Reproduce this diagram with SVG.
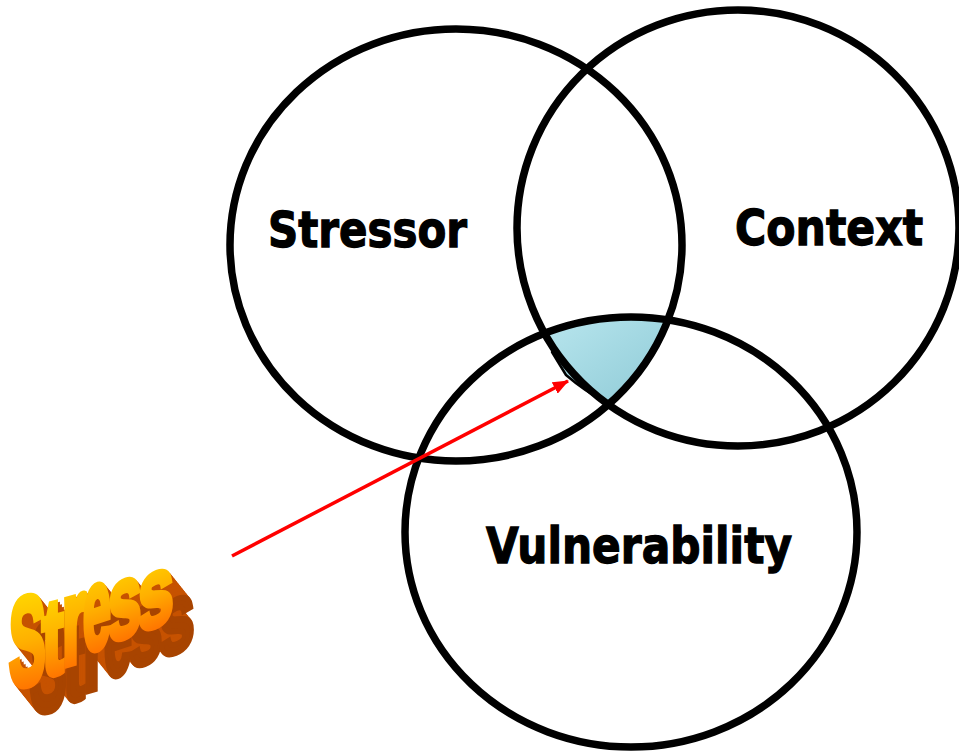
<svg xmlns="http://www.w3.org/2000/svg" xmlns:xlink="http://www.w3.org/1999/xlink" width="959" height="752" viewBox="0 0 959 752">
<style>
.ring{fill:none;stroke:#000;stroke-width:7.5}
.lbl{font-family:"DejaVu Sans","Verdana",sans-serif;font-weight:bold;font-size:50px;fill:#000;stroke:#000;stroke-width:1.3}
.wa{font-family:"Liberation Sans","Arial",sans-serif;font-weight:bold;font-size:100px}
</style>
<defs>
<linearGradient id="water" x1="0" y1="0" x2="1" y2="1">
<stop offset="0" stop-color="#b9e6ee"/>
<stop offset="0.5" stop-color="#a3d8e2"/>
<stop offset="1" stop-color="#8fcad6"/>
</linearGradient>
<linearGradient id="face" x1="0" y1="0" x2="0" y2="1">
<stop offset="0" stop-color="#ffe600"/>
<stop offset="0.5" stop-color="#ffb000"/>
<stop offset="1" stop-color="#ff5a00"/>
</linearGradient>
<marker id="ah" markerWidth="16" markerHeight="13" refX="15" refY="6.5" orient="auto" markerUnits="userSpaceOnUse" viewBox="0 0 16 13">
<path d="M0,0 L16,6.5 L0,13 z" fill="#ff0000"/>
</marker>
<g id="word">
<text class="wa" transform="translate(9,688) skewY(-12) scale(0.55,1.25)">S</text>
<text class="wa" transform="translate(42,677) skewY(-14) scale(0.65,1.08)">t</text>
<text class="wa" transform="translate(62,666) skewY(-16) scale(0.62,1.22)">r</text>
<text class="wa" transform="translate(83,653) skewY(-18) scale(0.5,1.17)">e</text>
<text class="wa" transform="translate(108,643) skewY(-20) scale(0.6,1.04)">s</text>
<text class="wa" transform="translate(138,633) skewY(-22) scale(0.64,0.98)">s</text>
</g>
<g id="ext">
<use xlink:href="#word" x="2" y="2.5"/>
<use xlink:href="#word" x="4" y="5"/>
<use xlink:href="#word" x="6" y="7.5"/>
<use xlink:href="#word" x="8" y="10"/>
<use xlink:href="#word" x="10" y="12.5"/>
<use xlink:href="#word" x="12" y="15"/>
<use xlink:href="#word" x="14" y="17.5"/>
<use xlink:href="#word" x="16" y="20"/>
<use xlink:href="#word" x="18" y="22.5"/>
<use xlink:href="#word" x="20" y="25"/>
</g>
</defs>
<rect width="959" height="752" fill="#fff"/>
<g id="overlap">
<path d="M547,332 A216,216 0 0 1 668,320 A226,217 0 0 1 607,403 A220,218 0 0 1 566,375 L552,352 L560,355 L546,340 Z" fill="url(#water)" stroke="#000" stroke-width="2.5" stroke-linejoin="round"/>
</g>
<g id="stressor">
<ellipse class="ring" cx="456" cy="245" rx="226" ry="216"/>
<text class="lbl" x="268" y="247" textLength="199" lengthAdjust="spacingAndGlyphs">Stressor</text>
</g>
<g id="context">
<ellipse class="ring" cx="738" cy="228" rx="221" ry="218"/>
<text class="lbl" x="735" y="245" textLength="188" lengthAdjust="spacingAndGlyphs">Context</text>
</g>
<g id="vulnerability">
<ellipse class="ring" cx="631" cy="532" rx="226" ry="215"/>
<text class="lbl" x="486" y="563" textLength="306" lengthAdjust="spacingAndGlyphs">Vulnerability</text>
</g>
<g id="stress">
<use xlink:href="#ext" fill="#c65200" stroke="#c65200" stroke-width="6"/>
<use xlink:href="#word" x="21" y="26" fill="#a84400" stroke="#a84400" stroke-width="6"/>
<use xlink:href="#word" fill="url(#face)" stroke="url(#face)" stroke-width="6"/>
</g>
<g id="connectors">
<line x1="232" y1="556" x2="568" y2="381" stroke="#ff0000" stroke-width="3.5" marker-end="url(#ah)"/>
</g>
</svg>
